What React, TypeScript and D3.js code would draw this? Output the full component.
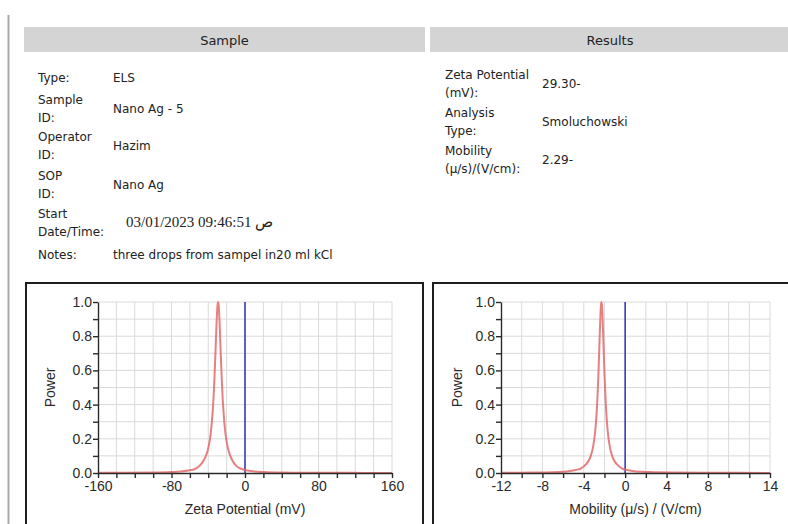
import React, { useEffect, useRef } from "react";
import * as d3 from "d3";

// report header fields
const sampleLabels = [["Type:"], ["Sample", "ID:"], ["Operator", "ID:"], ["SOP", "ID:"], ["Start", "Date/Time:"], ["Notes:"]];
const sampleValues = ["ELS", "Nano Ag - 5", "Hazim", "Nano Ag", "03/01/2023 09:46:51 ص", "three drops from sampel in20 ml kCl"];
const resultLabels = [["Zeta Potential", "(mV):"], ["Analysis", "Type:"], ["Mobility", "(μ/s)/(V/cm):"]];
const resultValues = ["29.30-", "Smoluchowski", "2.29-"];

// zeta potential spectrum (mV vs power)
const zetaMv = [-160, -130, -100, -80, -70, -60, -55, -50, -45, -41.3, -39.3, -37.3, -35.3, -34.3, -33.3, -32.3, -31.3, -30.8, -30.3, -29.8, -29.3,
  -28.8, -28.3, -27.8, -27.3, -26.3, -25.3, -24.3, -23.3, -21.3, -19.3, -17.3, -14.3, -9.3, -4.3, 0.7, 10.7, 20.7, 40.7, 70, 100, 130, 160];
const zetaPower = [0.001, 0.0015, 0.003, 0.006, 0.009, 0.016, 0.022, 0.039, 0.073, 0.119, 0.162, 0.232, 0.35, 0.436, 0.548, 0.683, 0.829, 0.896, 0.951, 0.987, 1.0,
  0.987, 0.951, 0.896, 0.829, 0.683, 0.548, 0.436, 0.35, 0.232, 0.162, 0.119, 0.079, 0.04, 0.025, 0.016, 0.009, 0.006, 0.003, 0.0015, 0.001, 0.0007, 0.0005];

// mobility spectrum
const mobility = [-12, -10, -8, -7, -6, -5.29, -4.79, -4.29, -3.79, -3.49, -3.29, -3.09, -2.89, -2.79, -2.69, -2.59, -2.54, -2.49, -2.44, -2.39, -2.34, -2.29,
  -2.24, -2.19, -2.14, -2.09, -2.04, -1.99, -1.89, -1.79, -1.69, -1.49, -1.29, -1.09, -0.79, -0.29, 0.21, 0.71, 1.71, 2.71, 4.71, 8, 11, 14];
const mobilityPower = [0.0012, 0.0018, 0.003, 0.004, 0.007, 0.012, 0.018, 0.026, 0.05, 0.076, 0.106, 0.156, 0.247, 0.321, 0.425, 0.568, 0.654, 0.747, 0.84, 0.922, 0.979, 1.0,
  0.979, 0.922, 0.84, 0.747, 0.654, 0.568, 0.425, 0.321, 0.247, 0.156, 0.106, 0.076, 0.05, 0.026, 0.018, 0.012, 0.007, 0.005, 0.0025, 0.0012, 0.0008, 0.0005];

const zetaTickLabels = [-160, -80, 0, 80, 160];
const mobilityTickLabels = [-12, -8, -4, 0, 4, 8, 14];

const infoFont = "'DejaVu Sans', Tahoma, sans-serif";
const chartFont = "'Liberation Sans', Arial, sans-serif";

const drawChart = (g, { xs, ys, domain, step, range, tickLabels, title, powerX }) => {
  const x = d3.scaleLinear().domain(domain).range(range);
  const y = d3.scaleLinear().domain([0, 1]).range([473, 302]);
  const xTicks = d3.range(Math.round((domain[1] - domain[0]) / step) + 1).map((i) => domain[0] + i * step);
  const yTicks = d3.range(11).map((i) => i / 10);

  // grid
  g.append("g")
    .selectAll("line")
    .data(xTicks.slice(1))
    .join("line")
    .attr("x1", (d) => x(d))
    .attr("x2", (d) => x(d))
    .attr("y1", y(0))
    .attr("y2", y(1))
    .attr("stroke", "#dadada");
  g.append("g")
    .selectAll("line")
    .data(yTicks.slice(1))
    .join("line")
    .attr("x1", range[0])
    .attr("x2", range[1])
    .attr("y1", (d) => y(d))
    .attr("y2", (d) => y(d))
    .attr("stroke", "#dadada");

  // zero line
  g.append("line")
    .attr("x1", x(0))
    .attr("x2", x(0))
    .attr("y1", y(0))
    .attr("y2", y(1))
    .attr("stroke", "#3c3cc0")
    .attr("stroke-width", 1.6);

  // spectrum
  const line = d3
    .line()
    .x((d) => x(d[0]))
    .y((d) => y(d[1]))
    .curve(d3.curveMonotoneX);
  g.append("path")
    .datum(xs.map((v, i) => [v, ys[i]]))
    .attr("fill", "none")
    .attr("stroke", "#e36a6a")
    .attr("stroke-width", 2)
    .attr("stroke-opacity", 0.85)
    .attr("d", line);

  // axes
  const xAxis = g
    .append("g")
    .attr("transform", `translate(0,${y(0)})`)
    .call(
      d3
        .axisBottom(x)
        .tickValues(xTicks)
        .tickSize(5)
        .tickPadding(3)
        .tickSizeOuter(0)
        .tickFormat((d) => (tickLabels.includes(d) ? String(d) : ""))
    );
  const yAxis = g
    .append("g")
    .attr("transform", `translate(${range[0]},0)`)
    .call(
      d3
        .axisLeft(y)
        .tickValues(yTicks)
        .tickSize(5)
        .tickPadding(1)
        .tickSizeOuter(0)
        .tickFormat((d, i) => (i % 2 === 0 ? d3.format(".1f")(d) : ""))
    );
  [xAxis, yAxis].forEach((a) => {
    a.attr("font-family", chartFont).attr("font-size", 14);
    a.selectAll("path, line").attr("stroke", "#2a2a2a").attr("stroke-width", 1.4);
    a.selectAll("text").attr("fill", "#2a2a2a");
  });

  g.append("text")
    .attr("transform", `translate(${powerX},${(y(0) + y(1)) / 2}) rotate(-90)`)
    .attr("text-anchor", "middle")
    .attr("dy", "0.35em")
    .attr("font-family", chartFont)
    .attr("font-size", 14)
    .attr("fill", "#2a2a2a")
    .text("Power");
  g.append("text")
    .attr("x", (range[0] + range[1]) / 2)
    .attr("y", 514)
    .attr("text-anchor", "middle")
    .attr("font-family", chartFont)
    .attr("font-size", 14)
    .attr("fill", "#2a2a2a")
    .text(title);
};

const App = () => {
  const ref = useRef();

  useEffect(() => {
    const svg = d3.select(ref.current);
    svg.selectAll("*").remove();

    svg.append("rect").attr("width", 788).attr("height", 524).attr("fill", "#fff");
    svg.append("line").attr("x1", 8.5).attr("x2", 8.5).attr("y1", 15).attr("y2", 524).attr("stroke", "#aaa").attr("stroke-width", 2);

    // section headers
    const headers = [
      { name: "Sample", x0: 24, x1: 425 },
      { name: "Results", x0: 430, x1: 790 },
    ];
    headers.forEach((h) => {
      svg.append("rect").attr("x", h.x0).attr("y", 27).attr("width", h.x1 - h.x0).attr("height", 25).attr("fill", "#d4d4d4");
      svg.append("text")
        .attr("x", (h.x0 + h.x1) / 2)
        .attr("y", 44.5)
        .attr("text-anchor", "middle")
        .attr("font-family", infoFont)
        .attr("font-size", 13)
        .attr("fill", "#222")
        .text(h.name);
    });

    const info = svg.append("g").attr("font-family", infoFont).attr("font-size", 12).attr("fill", "#222");
    const sampleRowY = [78, 109, 146, 185, 223, 255];
    const resultRowY = [84, 122, 160];
    const addRows = (labels, values, rowY, lx, vx) => {
      labels.forEach((lines, i) => {
        lines.forEach((t, j) => {
          info.append("text")
            .attr("x", lx)
            .attr("y", rowY[i] + (j - (lines.length - 1) / 2) * 17.5 + 4)
            .text(t);
        });
        const v = info.append("text").attr("x", vx).attr("y", rowY[i] + 4).text(values[i]);
        if (values[i].includes("ص")) {
          v.attr("x", vx + 13).attr("font-family", "'Liberation Serif', 'DejaVu Serif', serif").attr("font-size", 15);
        }
      });
    };
    addRows(sampleLabels, sampleValues, sampleRowY, 38, 113);
    addRows(resultLabels, resultValues, resultRowY, 445, 542);

    // chart frames
    svg.append("rect").attr("x", 26).attr("y", 283).attr("width", 397).attr("height", 260).attr("fill", "none").attr("stroke", "#1e1e1e").attr("stroke-width", 2);
    svg.append("rect").attr("x", 433).attr("y", 283).attr("width", 400).attr("height", 260).attr("fill", "none").attr("stroke", "#1e1e1e").attr("stroke-width", 2);

    drawChart(svg.append("g"), {
      xs: zetaMv,
      ys: zetaPower,
      domain: [-160, 160],
      step: 20,
      range: [98, 392],
      tickLabels: zetaTickLabels,
      title: "Zeta Potential (mV)",
      powerX: 50,
    });
    drawChart(svg.append("g"), {
      xs: mobility,
      ys: mobilityPower,
      domain: [-12, 14],
      step: 2,
      range: [501, 770],
      tickLabels: mobilityTickLabels,
      title: "Mobility (μ/s) / (V/cm)",
      powerX: 457,
    });
  });

  return (
    <div style={{ position: "absolute", left: 0, top: 0 }}>
      <svg ref={ref} width={788} height={524} style={{ display: "block" }}></svg>
    </div>
  );
};

export default App;
